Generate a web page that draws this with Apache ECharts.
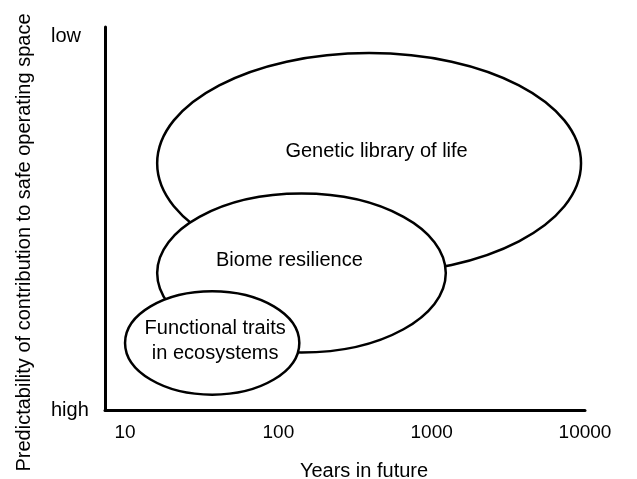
<!DOCTYPE html>
<html>
<head>
<meta charset="utf-8">
<script src="https://cdn.jsdelivr.net/npm/echarts@6/dist/echarts.min.js"></script>
<style>
  html, body { margin: 0; padding: 0; background: #fff; }
  #main { width: 637px; height: 479px; }
</style>
</head>
<body>
<div id="main"></div>
<script>
// regions, drawn back to front
var regionNames = ['Genetic library of life', 'Biome resilience', 'Functional traits\nin ecosystems'];
var yearsFrom = [16.2, 16.2, 10];
var yearsTo = [9420, 1236, 137];
var predBottom = [35.6, 15, 4];
var predTop = [93.2, 56.5, 31];
var labelYears = [437, 118, 38.7];
var labelPred = [67.6, 39, 18];
var xTicks = [10, 100, 1000, 10000];
var yTickNames = { 0: 'high', 100: 'low' };

var font = '"Liberation Sans", Arial, sans-serif';

var data = regionNames.map(function (n, i) {
  return [yearsFrom[i], yearsTo[i], predBottom[i], predTop[i], labelYears[i], labelPred[i], n];
});

var chart = echarts.init(document.getElementById('main'));
chart.setOption({
  animation: false,
  backgroundColor: '#fff',
  grid: { left: 105, right: 52, top: 27, bottom: 69, containLabel: false, outerBoundsMode: 'none' },
  xAxis: {
    type: 'log',
    logBase: 10,
    min: 7.4,
    max: 10000,
    name: 'Years in future',
    nameLocation: 'middle',
    nameGap: 51,
    nameTextStyle: { fontFamily: font, fontSize: 20, color: '#000', padding: [0, 0, 0, 38] },
    axisLine: { lineStyle: { color: '#000', width: 3 } },
    axisTick: { show: false },
    splitLine: { show: false },
    minorSplitLine: { show: false },
    axisLabel: {
      fontFamily: font, fontSize: 19, color: '#000', margin: 13,
      showMinLabel: true, showMaxLabel: true,
      formatter: function (v) {
        var r = Math.round(v);
        return xTicks.indexOf(r) >= 0 && Math.abs(v - r) < 1e-6 ? String(r) : '';
      }
    }
  },
  yAxis: {
    type: 'value',
    min: 0,
    max: 100,
    interval: 100,
    name: 'Predictability of contribution to safe operating space',
    nameLocation: 'middle',
    nameGap: 71,
    nameTextStyle: { fontFamily: font, fontSize: 20, color: '#000', padding: [0, 48, 0, 0] },
    axisLine: { lineStyle: { color: '#000', width: 3 } },
    axisTick: { show: false },
    splitLine: { show: false },
    axisLabel: {
      fontFamily: font, fontSize: 20, color: '#000', margin: 54, align: 'left',
      formatter: function (v) {
        return v === 100 ? '{lo|' + yTickNames[v] + '}' : yTickNames[v];
      },
      rich: { lo: { fontFamily: font, fontSize: 20, color: '#000', padding: [18, 0, 0, 0] } }
    }
  },
  series: [{
    type: 'custom',
    clip: false,
    data: data,
    renderItem: function (params, api) {
      var p0 = api.coord([api.value(0), api.value(3)]);
      var p1 = api.coord([api.value(1), api.value(2)]);
      var t = api.coord([api.value(4), api.value(5)]);
      return {
        type: 'group',
        children: [{
          type: 'ellipse',
          shape: {
            cx: (p0[0] + p1[0]) / 2, cy: (p0[1] + p1[1]) / 2,
            rx: Math.abs(p1[0] - p0[0]) / 2, ry: Math.abs(p1[1] - p0[1]) / 2
          },
          style: { fill: '#fff', stroke: '#000', lineWidth: 2.5 }
        }, {
          type: 'text',
          x: t[0], y: t[1],
          style: {
            text: regionNames[params.dataIndex],
            fontFamily: font, fontSize: 20, fill: '#000',
            align: 'center', verticalAlign: 'middle', lineHeight: 25
          }
        }]
      };
    }
  }]
});
</script>
</body>
</html>
